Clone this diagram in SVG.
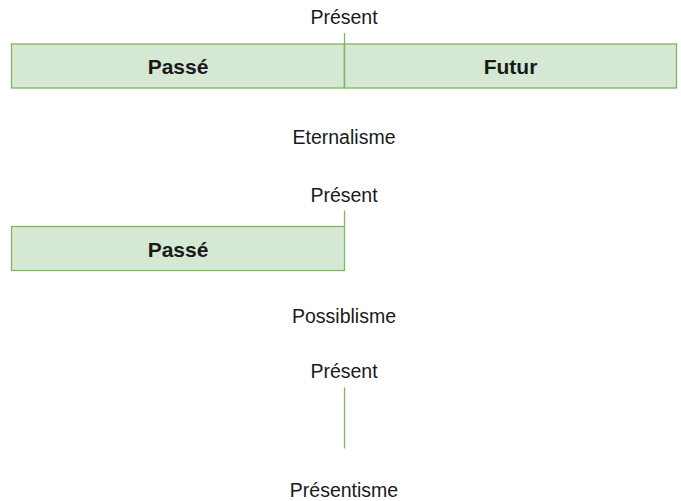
<svg xmlns="http://www.w3.org/2000/svg" width="681" height="501" viewBox="0 0 681 501">
<style>
.box{fill:#d5e8d4;stroke:#82b366;stroke-width:1.3}
.ln{stroke:#82b366;stroke-width:1.3;fill:none}
.lbl{font-family:"Liberation Sans",Arial,sans-serif;font-size:19.5px;fill:#1a1a1a;text-anchor:middle}
.b{font-family:"Liberation Sans",Arial,sans-serif;font-size:21px;font-weight:bold;fill:#1a1a1a;text-anchor:middle}
</style>
<rect width="681" height="501" fill="#ffffff"/>
<g id="eternalisme">
  <g id="passe1"><rect class="box" x="11.5" y="44" width="333" height="44"/><text class="b" x="178" y="74">Passé</text></g>
  <g id="futur1"><rect class="box" x="344.5" y="44" width="332" height="44"/><text class="b" x="510.5" y="74">Futur</text></g>
  <g id="present1"><text class="lbl" x="344" y="24">Présent</text></g>
  <g id="title1"><text class="lbl" x="344" y="144.3">Eternalisme</text></g>
</g>
<g id="possiblisme">
  <g id="passe2"><rect class="box" x="11.5" y="226.5" width="333" height="44"/><text class="b" x="178" y="257">Passé</text></g>
  <g id="present2"><text class="lbl" x="344" y="201.7">Présent</text></g>
  <g id="title2"><text class="lbl" x="344" y="323">Possiblisme</text></g>
</g>
<g id="presentisme">
  <g id="present3"><text class="lbl" x="344" y="378">Présent</text></g>
  <g id="title3"><text class="lbl" x="344" y="497">Présentisme</text></g>
</g>
<g id="connectors">
  <line class="ln" x1="344.5" y1="33" x2="344.5" y2="88"/>
  <line class="ln" x1="344.5" y1="210.5" x2="344.5" y2="226.5"/>
  <line class="ln" x1="344.5" y1="387.5" x2="344.5" y2="448.5"/>
</g>
</svg>
